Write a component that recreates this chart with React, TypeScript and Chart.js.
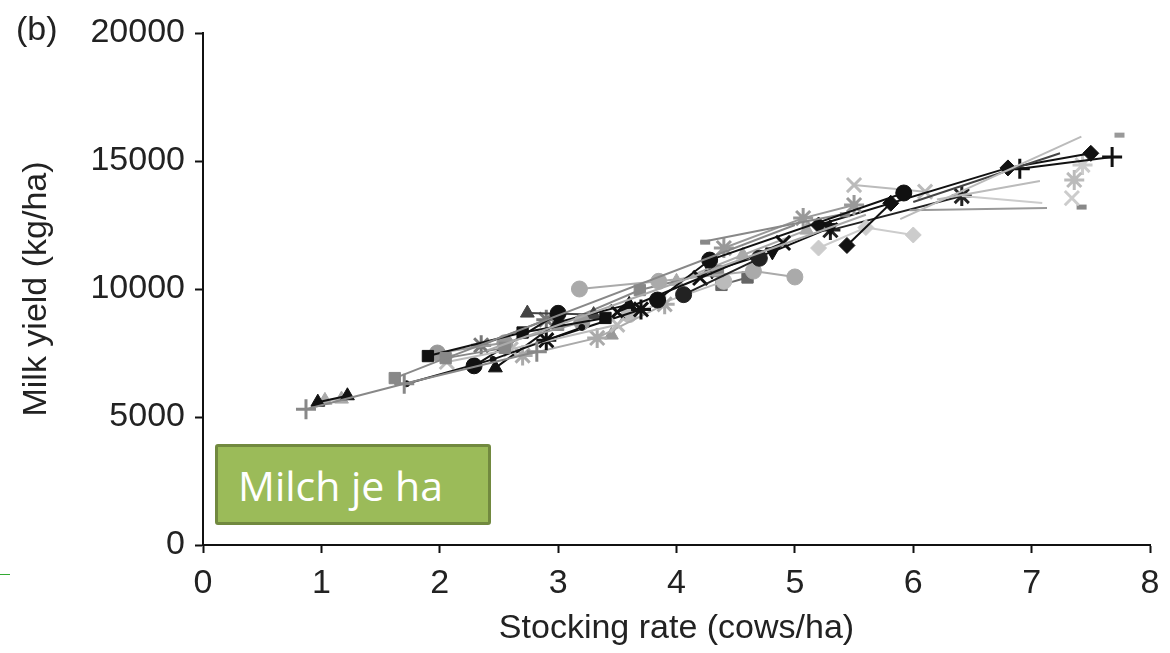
import React, { useEffect, useRef } from "react";
import { Chart, registerables } from "chart.js";

Chart.register(...registerables);

// Axis ticks
const xTickValues = [0, 1, 2, 3, 4, 5, 6, 7, 8];
const yTickValues = [0, 5000, 10000, 15000, 20000];

// Series (stocking rate cows/ha, milk yield kg/ha)
const s01Rate = [0.87, 1.7, 2.82];
const s01Milk = [5300, 6300, 7550];
const s02Rate = [0.97, 1.22];
const s02Milk = [5580, 5830];
const s03Rate = [1.03, 1.17];
const s03Milk = [5650, 5700];
const s04Rate = [1.62, 2.05, 2.55];
const s04Milk = [6520, 7300, 7700];
const s05Rate = [1.72, 2.45, 3.2];
const s05Milk = [6300, 7250, 8500];
const s06Rate = [1.9, 2.7, 3.4];
const s06Milk = [7380, 8300, 8870];
const s07Rate = [1.98, 2.55, 3.2];
const s07Milk = [7500, 7900, 8700];
const s08Rate = [2.06, 2.6, 3.5];
const s08Milk = [7150, 7650, 8600];
const s09Rate = [2.29, 3.0];
const s09Milk = [7000, 9050];
const s10Rate = [3.84, 4.28, 5.92];
const s10Milk = [9570, 11130, 13750];
const s11Rate = [4.06, 4.7];
const s11Milk = [9780, 11200];
const s12Rate = [2.47, 3.0, 3.6];
const s12Milk = [6920, 8700, 9400];
const s13Rate = [2.74, 3.3];
const s13Milk = [9060, 9000];
const s14Rate = [2.9, 3.7];
const s14Milk = [8000, 9200];
const s15Rate = [3.5, 4.2, 4.9];
const s15Milk = [9100, 10430, 11800];
const s16Rate = [3.18, 3.85, 4.65, 5.0];
const s16Milk = [10000, 10300, 10700, 10470];
const s17Rate = [2.7, 3.33, 3.9];
const s17Milk = [7400, 8090, 9400];
const s18Rate = [3.0, 3.69, 4.35];
const s18Milk = [8600, 9960, 10700];
const s19Rate = [4.2, 5.38];
const s19Milk = [11830, 12900];
const s20Rate = [4.0, 4.56, 5.1];
const s20Milk = [10300, 11330, 12300];
const s21Rate = [4.3, 4.81, 5.3];
const s21Milk = [10700, 11450, 12400];
const s22Rate = [4.4, 5.07, 5.5];
const s22Milk = [11600, 12770, 13280];
const s23Rate = [5.44, 5.81];
const s23Milk = [11700, 13350];
const s24Rate = [5.2, 6.8, 7.5];
const s24Milk = [12500, 14730, 15300];
const s25Rate = [5.5, 6.1];
const s25Milk = [14060, 13800];
const s26Rate = [5.2, 5.6, 6.0];
const s26Milk = [11600, 12400, 12110];
const s27Rate = [5.3, 6.41];
const s27Milk = [12300, 13630];
const s28Rate = [6.9, 7.68];
const s28Milk = [14700, 15160];
const s29Rate = [3.6, 4.4];
const s29Milk = [9000, 10300];
const s30Rate = [4.38, 4.6];
const s30Milk = [10160, 10450];
const s31Rate = [3.45, 3.6];
const s31Milk = [8200, 9300];
const s32Rate = [2.35, 2.9];
const s32Milk = [7800, 8800];
// plain lines (no markers)
const l01Rate = [5.89, 7.42];
const l01Milk = [12730, 15950];
const l02Rate = [6.0, 7.24];
const l02Milk = [13400, 15300];
const l03Rate = [6.2, 7.07];
const l03Milk = [13500, 14220];
const l04Rate = [6.41, 7.09];
const l04Milk = [13630, 13360];
const l05Rate = [5.97, 7.13];
const l05Milk = [13080, 13160];
const l06Rate = [2.0, 5.0];
const l06Milk = [7200, 12500];
const l07Rate = [2.4, 5.6];
const l07Milk = [7600, 12900];
// isolated markers on the right
const p01Rate = [7.7];
const p01Milk = [16010];
const p02Rate = [7.36];
const p02Milk = [14260];
const p03Rate = [7.43];
const p03Milk = [14840];
const p04Rate = [7.34];
const p04Milk = [13550];
const p05Rate = [7.38];
const p05Milk = [13200];

type S = { rate: number[]; milk: number[]; style: string; color: string; line: boolean; r?: number; rot?: number };

const seriesList: S[] = [
  { rate: l01Rate, milk: l01Milk, style: "circle", color: "#bbb", line: true, r: 0 },
  { rate: l02Rate, milk: l02Milk, style: "circle", color: "#444", line: true, r: 0 },
  { rate: l03Rate, milk: l03Milk, style: "circle", color: "#bbb", line: true, r: 0 },
  { rate: l04Rate, milk: l04Milk, style: "circle", color: "#ccc", line: true, r: 0 },
  { rate: l05Rate, milk: l05Milk, style: "circle", color: "#999", line: true, r: 0 },
  { rate: l06Rate, milk: l06Milk, style: "circle", color: "#888", line: true, r: 0 },
  { rate: l07Rate, milk: l07Milk, style: "circle", color: "#aaa", line: true, r: 0 },
  { rate: s01Rate, milk: s01Milk, style: "cross", color: "#888", line: true },
  { rate: s02Rate, milk: s02Milk, style: "triangle", color: "#111", line: true },
  { rate: s03Rate, milk: s03Milk, style: "triangle", color: "#aaa", line: true },
  { rate: s04Rate, milk: s04Milk, style: "rect", color: "#888", line: true },
  { rate: s05Rate, milk: s05Milk, style: "circle", color: "#111", line: true, r: 3 },
  { rate: s06Rate, milk: s06Milk, style: "rect", color: "#111", line: true },
  { rate: s07Rate, milk: s07Milk, style: "circle", color: "#999", line: true },
  { rate: s08Rate, milk: s08Milk, style: "crossRot", color: "#bbb", line: true },
  { rate: s09Rate, milk: s09Milk, style: "circle", color: "#111", line: true },
  { rate: s10Rate, milk: s10Milk, style: "circle", color: "#111", line: true },
  { rate: s11Rate, milk: s11Milk, style: "circle", color: "#222", line: true },
  { rate: s12Rate, milk: s12Milk, style: "triangle", color: "#111", line: true },
  { rate: s13Rate, milk: s13Milk, style: "triangle", color: "#444", line: true },
  { rate: s14Rate, milk: s14Milk, style: "star", color: "#111", line: true },
  { rate: s15Rate, milk: s15Milk, style: "crossRot", color: "#111", line: true },
  { rate: s16Rate, milk: s16Milk, style: "circle", color: "#aaa", line: true },
  { rate: s17Rate, milk: s17Milk, style: "star", color: "#aaa", line: true },
  { rate: s18Rate, milk: s18Milk, style: "rect", color: "#888", line: true },
  { rate: s19Rate, milk: s19Milk, style: "dash", color: "#888", line: true },
  { rate: s20Rate, milk: s20Milk, style: "triangle", color: "#aaa", line: true },
  { rate: s21Rate, milk: s21Milk, style: "triangle", color: "#111", line: true, rot: 180 },
  { rate: s22Rate, milk: s22Milk, style: "star", color: "#999", line: true },
  { rate: s23Rate, milk: s23Milk, style: "rectRot", color: "#111", line: true },
  { rate: s24Rate, milk: s24Milk, style: "rectRot", color: "#111", line: true },
  { rate: s25Rate, milk: s25Milk, style: "crossRot", color: "#bbb", line: true },
  { rate: s26Rate, milk: s26Milk, style: "rectRot", color: "#ccc", line: true },
  { rate: s27Rate, milk: s27Milk, style: "star", color: "#222", line: true },
  { rate: s28Rate, milk: s28Milk, style: "cross", color: "#111", line: true },
  { rate: s29Rate, milk: s29Milk, style: "circle", color: "#bbb", line: true },
  { rate: s30Rate, milk: s30Milk, style: "rect", color: "#666", line: true },
  { rate: s31Rate, milk: s31Milk, style: "triangle", color: "#999", line: true },
  { rate: s32Rate, milk: s32Milk, style: "star", color: "#777", line: true },
  { rate: p01Rate, milk: p01Milk, style: "dash", color: "#999", line: false },
  { rate: p02Rate, milk: p02Milk, style: "star", color: "#bbb", line: false },
  { rate: p03Rate, milk: p03Milk, style: "star", color: "#ccc", line: false },
  { rate: p04Rate, milk: p04Milk, style: "crossRot", color: "#ccc", line: false },
  { rate: p05Rate, milk: p05Milk, style: "dash", color: "#888", line: false },
];

const FONT = "'Liberation Sans', Arial, Helvetica, sans-serif";

const panelLabel = {
  id: "panelLabel",
  afterDraw(chart: any) {
    const ctx = chart.ctx;
    ctx.save();
    ctx.font = `34px ${FONT}`;
    ctx.fillStyle = "#222";
    ctx.textBaseline = "middle";
    ctx.textAlign = "left";
    ctx.fillText("(b)", 16, 31);
    ctx.restore();
  },
};

export default function App() {
  const ref = useRef<HTMLCanvasElement>(null);

  useEffect(() => {
    document.body.style.margin = "0";
    const datasets = seriesList.map((s, i) => {
      const stroke = ["cross", "crossRot", "star", "dash"].includes(s.style);
      return {
        label: `s${i}`,
        data: s.rate.map((x, j) => ({ x, y: s.milk[j] })),
        showLine: s.line,
        borderColor: s.color,
        backgroundColor: s.color,
        borderWidth: 2,
        pointStyle: s.style,
        pointRadius: s.r !== undefined ? s.r : s.style === "dash" ? 10 : stroke ? 10 : 8,
        pointRotation: s.rot || 0,
        pointBorderWidth: stroke ? (s.style === "dash" ? 5 : 3) : 1,
        pointBackgroundColor: s.color,
        pointBorderColor: s.color,
      };
    });

    const tickFont = { family: FONT, size: 34 };
    const chart = new Chart(ref.current!, {
      type: "scatter",
      data: { datasets: datasets as any },
      plugins: [panelLabel],
      options: {
        animation: false,
        responsive: false,
        maintainAspectRatio: false,
        layout: { padding: { top: 33, right: 20, left: 0, bottom: 0 } },
        plugins: { legend: { display: false }, tooltip: { enabled: false } },
        scales: {
          x: {
            type: "linear",
            min: 0,
            max: 8,
            afterBuildTicks: (scale: any) => {
              scale.ticks = xTickValues.map((v) => ({ value: v }));
            },
            afterFit: (scale: any) => {
              scale.height = 108;
            },
            ticks: { font: tickFont, color: "#222", padding: 10, callback: (v: any) => String(v) },
            grid: { drawOnChartArea: false, drawTicks: true, tickLength: 8, tickWidth: 2, tickColor: "#111" },
            border: { display: true, color: "#111", width: 2 },
            title: {
              display: true,
              text: "Stocking rate (cows/ha)",
              font: tickFont,
              color: "#222",
              padding: { top: 0, bottom: 4 },
            },
          },
          y: {
            type: "linear",
            min: 0,
            max: 20000,
            afterBuildTicks: (scale: any) => {
              scale.ticks = yTickValues.map((v) => ({ value: v }));
            },
            afterFit: (scale: any) => {
              scale.width = 203;
            },
            ticks: { font: tickFont, color: "#222", padding: 10, callback: (v: any) => String(v) },
            grid: { drawOnChartArea: false, drawTicks: true, tickLength: 8, tickWidth: 2, tickColor: "#111" },
            border: { display: true, color: "#111", width: 2 },
            title: {
              display: true,
              text: "Milk yield (kg/ha)",
              font: tickFont,
              color: "#222",
              padding: { top: 16, bottom: 0 },
            },
          },
        },
      },
    });
    return () => chart.destroy();
  }, []);

  return (
    <div style={{ position: "relative", width: 1170, height: 653, background: "#fff", overflow: "hidden" }}>
      <canvas ref={ref} width={1170} height={653} style={{ position: "absolute", left: 0, top: 0, width: 1170, height: 653 }} />
      <div
        style={{
          position: "absolute",
          left: 215,
          top: 444,
          width: 276,
          height: 81,
          boxSizing: "border-box",
          background: "#9bbb59",
          border: "3px solid #71893f",
          borderRadius: 3,
          color: "#fff",
          fontFamily: "'Open Sans', Lato, sans-serif",
          fontSize: 41,
          display: "flex",
          alignItems: "center",
          paddingLeft: 20,
        }}
      >
        Milch je ha
      </div>
      <div style={{ position: "absolute", left: 0, top: 574, width: 10, height: 1, background: "#3a3" }} />
    </div>
  );
}
